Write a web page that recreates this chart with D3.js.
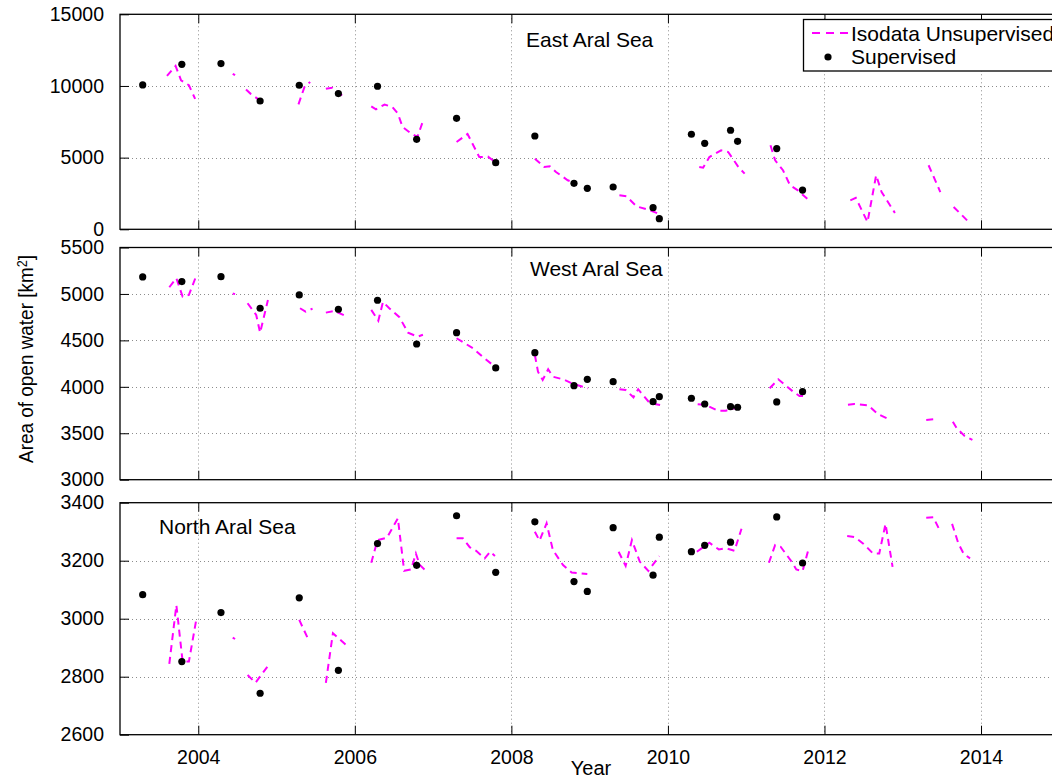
<!DOCTYPE html>
<html>
<head>
<meta charset="utf-8">
<script src="https://cdn.jsdelivr.net/npm/d3@7"></script>
<style>
  body { margin: 0; background: #fff; }
  svg { display: block; }
  text { font-family: "Liberation Sans", Arial, Helvetica, sans-serif; fill: #000; }
</style>
</head>
<body>
<svg id="chart" width="1052" height="780"></svg>
<script>
// ---- Data (decimal years, open-water area in km²) ----
const xTickYears = [2004, 2006, 2008, 2010, 2012, 2014];

const eastTicks  = [0, 5000, 10000, 15000];
const westTicks  = [3000, 3500, 4000, 4500, 5000, 5500];
const northTicks = [2600, 2800, 3000, 3200, 3400];

// Supervised classification dates
const supYear = [2003.29, 2003.79, 2004.29, 2004.79, 2005.29, 2005.79, 2006.29, 2006.79,
                 2007.30, 2007.80, 2008.30, 2008.80, 2008.97, 2009.30, 2009.81, 2009.89,
                 2010.30, 2010.47, 2010.80, 2010.89, 2011.39, 2011.72];
const eastSup  = [10070, 11510, 11560, 8950, 10050, 9470, 9980, 6280, 7740, 4650, 6510,
                  3210, 2860, 2950, 1510, 740, 6630, 6000, 6910, 6140, 5630, 2740];
const westSup  = [5183, 5133, 5186, 4846, 4989, 4835, 4932, 4461, 4583, 4203, 4368,
                  4012, 4081, 4055, 3840, 3894, 3877, 3815, 3786, 3780, 3837, 3948];
const northSup = [3083, 2852, 3021, 2743, 3072, 2822, 3259, 3184, 3355, 3160, 3334,
                  3128, 3094, 3314, 3150, 3281, 3231, 3253, 3264, null, 3351, 3192];

// Isodata unsupervised series; null marks a break between scene groups
const eastIsoYear = [2003.60, 2003.71, 2003.78, 2003.88, 2003.96, null,
  2004.44, 2004.47, null,
  2004.61, 2004.67, 2004.76, 2004.80, null,
  2005.28, 2005.36, 2005.43, null,
  2005.63, 2005.71, 2005.76, 2005.85, null,
  2006.21, 2006.27, 2006.38, 2006.48, 2006.55, 2006.61, 2006.72, 2006.80, 2006.87, null,
  2007.30, 2007.44, 2007.59, 2007.70, 2007.80, null,
  2008.30, 2008.42, 2008.49, 2008.57, 2008.72, 2008.81, null,
  2009.38, 2009.47, 2009.60, 2009.77, 2009.90, null,
  2010.40, 2010.45, 2010.53, 2010.68, 2010.77, 2010.90, 2010.98, null,
  2011.31, 2011.37, 2011.47, 2011.56, 2011.66, 2011.81, null,
  2012.33, 2012.40, 2012.55, 2012.66, 2012.73, 2012.90, null,
  2013.33, 2013.48, null,
  2013.65, 2013.83];
const eastIsoArea = [10700, 11400, 10400, 10050, 9100, null,
  10850, 10750, null,
  9750, 9450, 9100, 8880, null,
  8720, 9980, 10280, null,
  9810, 9880, 9700, 9280, null,
  8580, 8370, 8700, 8530, 8070, 7140, 6680, 6440, 7550, null,
  6090, 6650, 5040, 5070, 4670, null,
  4930, 4350, 4400, 4000, 3420, 3230, null,
  2370, 2300, 1600, 1330, 1050, null,
  4350, 4300, 5040, 5510, 5390, 4350, 3880, null,
  5860, 4810, 4120, 3070, 2720, 1980, null,
  2020, 2190, 510, 3770, 2600, 1140, null,
  4470, 2600, null,
  1560, 580];

const westIsoYear = [2003.63, 2003.72, 2003.80, 2003.88, 2003.97, null,
  2004.44, 2004.47, null,
  2004.63, 2004.74, 2004.79, 2004.89, null,
  2005.30, 2005.37, 2005.46, null,
  2005.63, 2005.74, 2005.88, null,
  2006.21, 2006.30, 2006.36, 2006.44, 2006.57, 2006.68, 2006.80, 2006.87, null,
  2007.30, 2007.51, 2007.64, 2007.79, null,
  2008.30, 2008.34, 2008.40, 2008.47, 2008.53, 2008.66, 2008.79, 2008.98, null,
  2009.38, 2009.46, 2009.56, 2009.62, 2009.67, 2009.77, 2009.90, null,
  2010.38, 2010.48, 2010.64, 2010.74, 2010.96, null,
  2011.30, 2011.41, 2011.60, 2011.68, 2011.75, null,
  2012.30, 2012.38, 2012.56, 2012.68, 2012.84, null,
  2013.30, 2013.39, null,
  2013.64, 2013.69, 2013.79, 2013.89];
const westIsoArea = [5072, 5169, 4971, 4989, 5186, null,
  5005, 4998, null,
  4900, 4774, 4583, 4935, null,
  4846, 4809, 4842, null,
  4799, 4817, 4763, null,
  4828, 4712, 4914, 4846, 4749, 4583, 4540, 4560, null,
  4523, 4415, 4318, 4217, null,
  4343, 4163, 4074, 4189, 4109, 4081, 4031, 3984, null,
  3974, 3966, 3887, 3974, 3923, 3823, 3805, null,
  3812, 3805, 3743, 3743, 3794, null,
  3984, 4081, 3948, 3901, 3901, null,
  3808, 3815, 3801, 3708, 3643, null,
  3643, 3650, null,
  3625, 3554, 3471, 3428];

const northIsoYear = [2003.63, 2003.72, 2003.80, 2003.88, 2003.97, null,
  2004.44, 2004.47, null,
  2004.63, 2004.73, 2004.89, null,
  2005.29, 2005.40, null,
  2005.63, 2005.72, 2005.89, null,
  2006.21, 2006.29, 2006.41, 2006.55, 2006.63, 2006.72, 2006.78, 2006.83, 2006.89, null,
  2007.30, 2007.38, 2007.47, 2007.55, 2007.66, 2007.73, 2007.79, null,
  2008.30, 2008.36, 2008.45, 2008.53, 2008.66, 2008.77, 2008.97, null,
  2009.37, 2009.46, 2009.54, 2009.64, 2009.75, 2009.89, null,
  2010.37, 2010.53, 2010.57, 2010.65, 2010.74, 2010.85, 2010.94, null,
  2011.29, 2011.37, 2011.44, 2011.59, 2011.64, 2011.72, 2011.79, null,
  2012.29, 2012.39, 2012.50, 2012.62, 2012.70, 2012.78, 2012.87, null,
  2013.30, 2013.39, 2013.47, null,
  2013.63, 2013.71, 2013.78, 2013.86];
const northIsoArea = [2844, 3047, 2852, 2852, 2990, null,
  2935, 2930, null,
  2806, 2779, 2837, null,
  2996, 2932, null,
  2779, 2950, 2909, null,
  3193, 3271, 3279, 3346, 3165, 3170, 3225, 3185, 3170, null,
  3277, 3277, 3246, 3234, 3208, 3231, 3216, null,
  3300, 3269, 3329, 3237, 3185, 3159, 3154, null,
  3231, 3182, 3271, 3197, 3165, 3216, null,
  3231, 3262, 3254, 3239, 3243, 3234, 3310, null,
  3193, 3254, 3248, 3193, 3170, 3164, 3234, null,
  3285, 3281, 3258, 3225, 3225, 3327, 3179, null,
  3348, 3350, 3306, null,
  3327, 3260, 3223, 3208];

// ---- Layout ----
const svg = d3.select("#chart");
const MAGENTA = "#ff00ff";
const left = 120, right = 1059.3;
const x = d3.scaleLinear().domain([2003, 2015]).range([left, right]);
const TICK = 9;

const panels = [
  { name: "East Aral Sea",  top: 14.3,  bottom: 229.3, domain: [0, 15000], ticks: eastTicks,
    supV: eastSup,  isoY: eastIsoYear,  isoV: eastIsoArea,  title: [526, 47] },
  { name: "West Aral Sea",  top: 247.5, bottom: 479.7, domain: [3000, 5500], ticks: westTicks,
    supV: westSup,  isoY: westIsoYear,  isoV: westIsoArea,  title: [530, 276] },
  { name: "North Aral Sea", top: 502.7, bottom: 734.7, domain: [2600, 3400], ticks: northTicks,
    supV: northSup, isoY: northIsoYear, isoV: northIsoArea, title: [159, 534] }
];

panels.forEach((p, i) => {
  const y = d3.scaleLinear().domain(p.domain).range([p.bottom, p.top]);
  const g = svg.append("g");
  const clipId = "clip" + i;
  svg.append("defs").append("clipPath").attr("id", clipId)
    .append("rect").attr("x", left).attr("y", p.top)
    .attr("width", right - left).attr("height", p.bottom - p.top);

  // dotted grid
  const grid = g.append("g").attr("stroke", "#8c8c8c").attr("stroke-width", 1)
    .attr("stroke-dasharray", "1,3");
  grid.selectAll("line.gx").data(xTickYears).join("line")
    .attr("x1", d => Math.round(x(d)) + 0.5).attr("x2", d => Math.round(x(d)) + 0.5)
    .attr("y1", p.top).attr("y2", p.bottom);
  grid.selectAll("line.gy").data(p.ticks.filter(t => t > p.domain[0] && t < p.domain[1])).join("line")
    .attr("x1", left).attr("x2", right)
    .attr("y1", d => Math.round(y(d)) + 0.5).attr("y2", d => Math.round(y(d)) + 0.5);

  // isodata unsupervised dashed series
  const isoPts = p.isoY.map((yr, k) => ({ t: yr, v: p.isoV[k] }));
  const line = d3.line()
    .defined(d => d.t != null && d.v != null)
    .x(d => x(d.t)).y(d => y(d.v));
  g.append("path").datum(isoPts)
    .attr("clip-path", `url(#${clipId})`)
    .attr("fill", "none").attr("stroke", MAGENTA).attr("stroke-width", 2)
    .attr("stroke-dasharray", "7,5")
    .attr("d", line);

  // supervised points
  const supPts = supYear.map((yr, k) => ({ t: yr, v: p.supV[k] })).filter(d => d.v != null);
  g.append("g").attr("clip-path", `url(#${clipId})`)
    .selectAll("circle").data(supPts).join("circle")
    .attr("cx", d => x(d.t)).attr("cy", d => y(d.v)).attr("r", 3.6).attr("fill", "#000");

  // axes box with inward ticks
  const axisG = g.append("g");
  const yAxis = d3.axisLeft(y).tickValues(p.ticks).tickSize(-TICK).tickPadding(TICK + 7)
    .tickFormat(d3.format("d"));
  axisG.append("g").attr("transform", `translate(${left},0)`).call(yAxis);
  const xBottom = d3.axisBottom(x).tickValues(xTickYears).tickSize(-TICK)
    .tickPadding(TICK + 6).tickFormat(d3.format("d"));
  const xTop = d3.axisTop(x).tickValues(xTickYears).tickSize(-TICK).tickFormat("");
  const xb = axisG.append("g").attr("transform", `translate(0,${p.bottom})`).call(xBottom);
  axisG.append("g").attr("transform", `translate(0,${p.top})`).call(xTop);
  if (i < 2) xb.selectAll(".tick text").remove();
  axisG.selectAll(".domain").remove();
  axisG.selectAll(".tick line").attr("stroke", "#000").attr("stroke-width", 1);
  axisG.selectAll(".tick text").attr("font-size", 19.5)
    .attr("font-family", "'Liberation Sans', Arial, Helvetica, sans-serif").attr("fill", "#000");
  g.append("rect").attr("x", left).attr("y", p.top)
    .attr("width", right - left).attr("height", p.bottom - p.top)
    .attr("fill", "none").attr("stroke", "#000").attr("stroke-width", 1.3);

  // panel title
  g.append("text").attr("x", p.title[0]).attr("y", p.title[1])
    .attr("font-size", 21).text(p.name);
});

// x axis title
svg.append("text").attr("x", 591).attr("y", 775).attr("text-anchor", "middle")
  .attr("font-size", 20).text("Year");

// y axis title (narrow lettering)
const yl = svg.append("text").attr("font-size", 21).attr("text-anchor", "middle");
yl.append("tspan").text("Area of open water [km");
yl.append("tspan").attr("font-size", 14).attr("baseline-shift", "45%").text("2");
yl.append("tspan").text("]");
const natural = yl.node().getComputedTextLength();
yl.attr("transform", `translate(33,359) rotate(-90) scale(${208 / natural},1)`);

// legend
const lg = svg.append("g");
lg.append("rect").attr("x", 803.5).attr("y", 19.5).attr("width", 262).attr("height", 51.5)
  .attr("fill", "#fff").attr("stroke", "#000").attr("stroke-width", 1.3);
lg.append("line").attr("x1", 812).attr("x2", 848).attr("y1", 33).attr("y2", 33)
  .attr("stroke", MAGENTA).attr("stroke-width", 2).attr("stroke-dasharray", "8,6");
lg.append("text").attr("x", 851).attr("y", 41).attr("font-size", 21).text("Isodata Unsupervised");
lg.append("circle").attr("cx", 828).attr("cy", 57).attr("r", 3.6).attr("fill", "#000");
lg.append("text").attr("x", 851).attr("y", 64).attr("font-size", 21).text("Supervised");
</script>
</body>
</html>
